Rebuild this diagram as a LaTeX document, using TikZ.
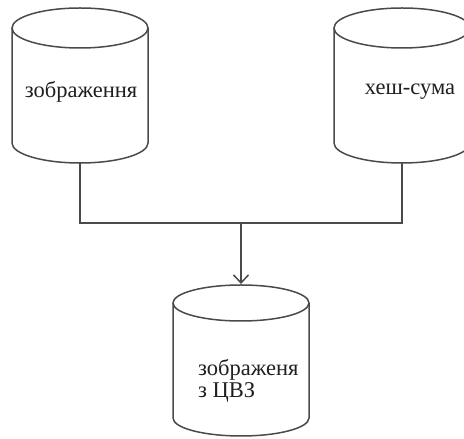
\documentclass[tikz,border=0pt]{standalone}
\usepackage{fontspec}
\setmainfont{Liberation Serif}
\usetikzlibrary{arrows.meta}
\definecolor{ln}{HTML}{4a4a4a}
\tikzset{
  cyl/.style={draw=ln, line width=1.5pt},
  wire/.style={draw=ln, line width=1.5pt},
  lbl/.style={font=\fontsize{22.5}{22.5}\selectfont, text=black!88, inner sep=0pt},
}
\newcommand{\cylshape}[5]{% cx, ytop, ybot, rx, ry (image coords)
  \draw[cyl] ({#1-#4},{439-#2}) -- ({#1-#4},{439-#3})
     arc[start angle=180, end angle=360, x radius=#4, y radius=#5]
     -- ({#1+#4},{439-#2});
  \draw[cyl] (#1,{439-#2}) ellipse[x radius=#4, y radius=#5];
}
\begin{document}
\begin{tikzpicture}[x=1pt,y=1pt]
\useasboundingbox (0,0) rectangle (464,439);
\cylshape{80}{28}{143}{68}{20}
\cylshape{402}{28}{143}{68}{20}
\cylshape{241}{303}{418}{68}{18}
\node[lbl] (t1) at (81,{439-92}) {зображення};
\node[lbl] (t2) at (410,{439-92}) {хеш-сума};
\node[lbl, align=left, anchor=north west] (t3) at (198,{439-359}) {зображеня\\з ЦВЗ};
\coordinate (lb) at (80,{439-163});
\coordinate (rb) at (402,{439-163});
\coordinate (m) at (241,{439-223});
\coordinate (ct) at (241,{439-284});
\draw[wire] (lb) |- (m) -| (rb);
\draw[wire, -{Straight Barb[length=8pt,width=15pt]}] (m) -- (ct);
\end{tikzpicture}
\end{document}
